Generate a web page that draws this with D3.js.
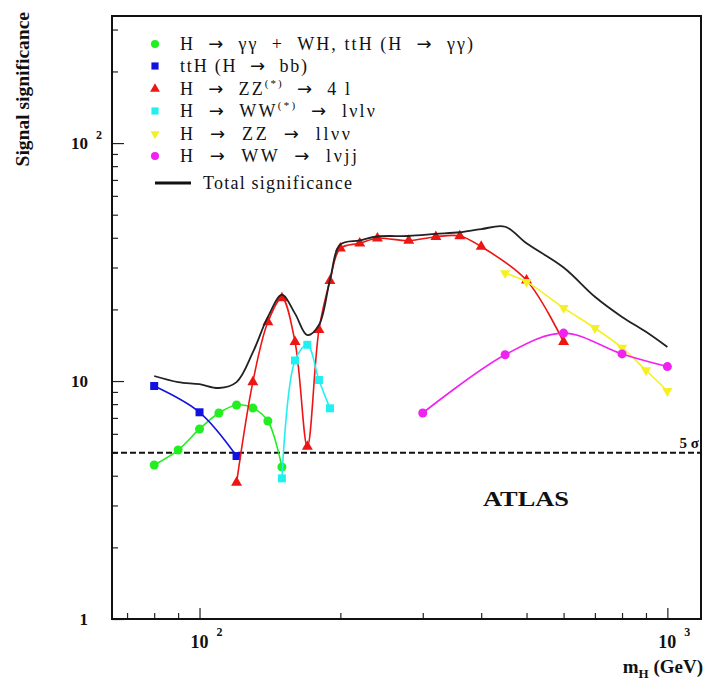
<!DOCTYPE html>
<html>
<head>
<meta charset="utf-8">
<script src="https://cdnjs.cloudflare.com/ajax/libs/d3/7.8.5/d3.min.js"></script>
<style>
  body { margin: 0; background: #fff; }
  text { font-family: "Liberation Serif", "DejaVu Serif", serif; fill: #111; white-space: pre; }
  .arr { font-family: "DejaVu Sans", sans-serif; font-weight: normal; }
</style>
</head>
<body>
<div id="chart"></div>
<script>
// values (mass in GeV, significance)
var massGG = [80, 90, 100, 110, 120, 130, 140, 150];
var sigGG = [4.44, 5.13, 6.29, 7.34, 7.93, 7.70, 6.79, 4.35];

var massBB = [80, 100, 120];
var sigBB = [9.53, 7.39, 4.84];

var massZZ4l = [120, 130, 140, 150, 160, 170, 180, 190, 200, 220, 240, 280, 320, 360, 400, 500, 600];
var sigZZ4l = [3.74, 9.9, 17.7, 22.3, 14.6, 5.3, 16.4, 26.4, 36.1, 37.9, 39.8, 38.9, 40.4, 40.7, 36.7, 26.5, 14.6];

var massWWlvlv = [150, 160, 170, 180, 190];
var sigWWlvlv = [3.9, 12.2, 14.2, 10.1, 7.68];

var massZZllvv = [450, 500, 600, 700, 800, 900, 1000];
var sigZZllvv = [28.4, 26.1, 20.3, 16.7, 13.8, 11.1, 9.08];

var massWWlvjj = [300, 450, 600, 800, 1000];
var sigWWlvjj = [7.34, 12.9, 15.9, 13.0, 11.5];

var massTotal = [80, 90, 100, 110, 120, 130, 140, 150, 160, 170, 180, 190, 200, 220, 240, 280, 320, 360, 400, 450, 500, 600, 700, 800, 900, 1000];
var sigTotal = [10.5, 9.9, 9.7, 9.35, 9.9, 13.2, 18.6, 23, 19.2, 15.6, 17.2, 26.6, 37.5, 39, 40.5, 40.7, 41.5, 42.2, 43.5, 44.5, 37.9, 30, 22.6, 18.6, 16.1, 13.9];

var yMajor = [1, 10, 100];
var yMinor = [2, 3, 4, 5, 6, 7, 8, 9, 20, 30, 40, 50, 60, 70, 80, 90, 200, 300];
var xMajor = [100, 1000];
var xMinor = [70, 80, 90, 200, 300, 400, 500, 600, 700, 800, 900];
var discovery = 5;

var W = 705, H = 680;
var pL = 112, pR = 701, pT = 16, pB = 619;

var svg = d3.select("#chart").append("svg")
    .attr("width", W).attr("height", H);

var x = d3.scaleLog().domain([65, 1180]).range([pL, pR]);
var y = d3.scaleLog().domain([1, 342]).range([pB, pT]);

// ticks inside the frame, ROOT style
function ticks(axis, pos) {
    svg.append("g").attr("transform", pos).call(axis)
        .call(g => g.select(".domain").remove())
        .selectAll("line").attr("stroke", "#222").attr("stroke-width", 1.2);
}
ticks(d3.axisBottom(x).tickValues(xMinor).tickSize(-6).tickFormat(""), "translate(0," + pB + ")");
ticks(d3.axisBottom(x).tickValues(xMajor).tickSize(-11).tickFormat(""), "translate(0," + pB + ")");
ticks(d3.axisLeft(y).tickValues(yMinor).tickSize(-6).tickFormat(""), "translate(" + pL + ",0)");
ticks(d3.axisLeft(y).tickValues(yMajor).tickSize(-12).tickFormat(""), "translate(" + pL + ",0)");

// frame
svg.append("rect")
    .attr("x", pL).attr("y", pT)
    .attr("width", pR - pL).attr("height", pB - pT)
    .attr("fill", "none").attr("stroke", "#111").attr("stroke-width", 2);

// tick labels
yMajor.forEach(function (v) {
    var exp = Math.round(Math.log10(v));
    svg.append("text").attr("x", 88).attr("y", y(v) + 6)
        .attr("text-anchor", "end").attr("font-size", 17).attr("font-weight", "bold")
        .text(exp === 0 ? "1" : "10");
    if (exp > 1) {
        svg.append("text").attr("x", 96).attr("y", y(v) - 4)
            .attr("font-size", 12).attr("font-weight", "bold").text(exp);
    }
});
xMajor.forEach(function (v) {
    var exp = Math.round(Math.log10(v));
    svg.append("text").attr("x", x(v)).attr("y", 648)
        .attr("text-anchor", "middle").attr("font-size", 18).attr("font-weight", "bold").text("10");
    svg.append("text").attr("x", x(v) + 17).attr("y", 636)
        .attr("font-size", 12).attr("font-weight", "bold").text(exp);
});

// axis titles
svg.append("text")
    .attr("transform", "translate(29,12) rotate(-90)")
    .attr("text-anchor", "end").attr("font-size", 19.5).attr("font-weight", "bold")
    .text("Signal significance");
var xt = svg.append("text").attr("x", 703).attr("y", 673)
    .attr("text-anchor", "end").attr("font-size", 19).attr("font-weight", "bold");
xt.append("tspan").text("m");
xt.append("tspan").attr("dy", 5).attr("font-size", 13).text("H");
xt.append("tspan").attr("dy", -5).text(" (GeV)");

// 5 sigma line
svg.append("line")
    .attr("x1", pL).attr("x2", pR)
    .attr("y1", y(discovery)).attr("y2", y(discovery))
    .attr("stroke", "#111").attr("stroke-width", 2).attr("stroke-dasharray", "6,3");
svg.append("text").attr("x", 699).attr("y", y(discovery) - 5)
    .attr("text-anchor", "end").attr("font-size", 15).attr("font-weight", "bold").text("5 σ");

svg.append("text").attr("x", 483).attr("y", 506)
    .attr("font-size", 22).attr("font-weight", "bold")
    .attr("textLength", 86).attr("lengthAdjust", "spacingAndGlyphs").text("ATLAS");

// series
var line = d3.line()
    .x(function (d) { return x(d[0]); })
    .y(function (d) { return y(d[1]); })
    .curve(d3.curveCatmullRom.alpha(0.5));

var series = [
    { m: massGG, s: sigGG, color: "#22ee22", sym: d3.symbolCircle, size: 64, rot: 0 },
    { m: massBB, s: sigBB, color: "#1212e0", sym: d3.symbolSquare, size: 64, rot: 0 },
    { m: massZZ4l, s: sigZZ4l, color: "#ee1515", sym: d3.symbolTriangle, size: 52, rot: 0 },
    { m: massWWlvlv, s: sigWWlvlv, color: "#22f0f0", sym: d3.symbolSquare, size: 64, rot: 0 },
    { m: massZZllvv, s: sigZZllvv, color: "#f4f022", sym: d3.symbolTriangle, size: 45, rot: 180 },
    { m: massWWlvjj, s: sigWWlvjj, color: "#f022f0", sym: d3.symbolCircle, size: 64, rot: 0 }
];

series.forEach(function (sr) {
    var pts = sr.m.map(function (m, i) { return [m, sr.s[i]]; });
    svg.append("path").datum(pts)
        .attr("d", line).attr("fill", "none")
        .attr("stroke", sr.color).attr("stroke-width", 1.6);
    svg.selectAll(null).data(pts).enter().append("path")
        .attr("d", d3.symbol().type(sr.sym).size(sr.size))
        .attr("transform", function (d) { return "translate(" + x(d[0]) + "," + y(d[1]) + ") rotate(" + sr.rot + ")"; })
        .attr("fill", sr.color);
});

// total significance
svg.append("path").datum(massTotal.map(function (m, i) { return [m, sigTotal[i]]; }))
    .attr("d", line).attr("fill", "none")
    .attr("stroke", "#222").attr("stroke-width", 1.8);

// legend: pieces are [text, kind]; kind "a" = arrow, "s" = superscript
var legRows = [
    [["H  "], ["→", "a"], ["  γγ  +  WH, ttH (H  "], ["→", "a"], ["  γγ)"]],
    [["ttH (H  "], ["→", "a"], ["  bb)"]],
    [["H  "], ["→", "a"], ["  ZZ"], ["(*)", "s"], ["  "], ["→", "a"], ["  4 l"]],
    [["H  "], ["→", "a"], ["  WW"], ["(*)", "s"], ["  "], ["→", "a"], ["  lνlν"]],
    [["H  "], ["→", "a"], ["  ZZ  "], ["→", "a"], ["  llνν"]],
    [["H  "], ["→", "a"], ["  WW  "], ["→", "a"], ["  lνjj"]]
];
var legY = [44, 66, 89, 111, 134, 156];
var legEnd = [473, 307, 350, 375, 350, 357];
legRows.forEach(function (row, i) {
    var sr = series[i];
    svg.append("path")
        .attr("d", d3.symbol().type(sr.sym).size(sr.size * 0.8))
        .attr("transform", "translate(155," + legY[i] + ") rotate(" + sr.rot + ")")
        .attr("fill", sr.color);
    var t = svg.append("text").attr("x", 180).attr("y", legY[i] + 6)
        .attr("font-size", 18)
        .attr("textLength", legEnd[i] - 180).attr("lengthAdjust", "spacing");
    var raised = false;
    row.forEach(function (p) {
        var ts = t.append("tspan").text(p[0]);
        if (p[1] === "a") ts.attr("class", "arr").attr("font-size", 18);
        if (p[1] === "s") { ts.attr("dy", -8).attr("font-size", 11); raised = true; }
        else if (raised) { ts.attr("dy", 8); raised = false; }
    });
});
svg.append("line").attr("x1", 155).attr("x2", 191).attr("y1", 183).attr("y2", 183)
    .attr("stroke", "#111").attr("stroke-width", 3);
svg.append("text").attr("x", 203).attr("y", 189)
    .attr("font-size", 18).attr("textLength", 149).attr("lengthAdjust", "spacing")
    .text("Total significance");
</script>
</body>
</html>
